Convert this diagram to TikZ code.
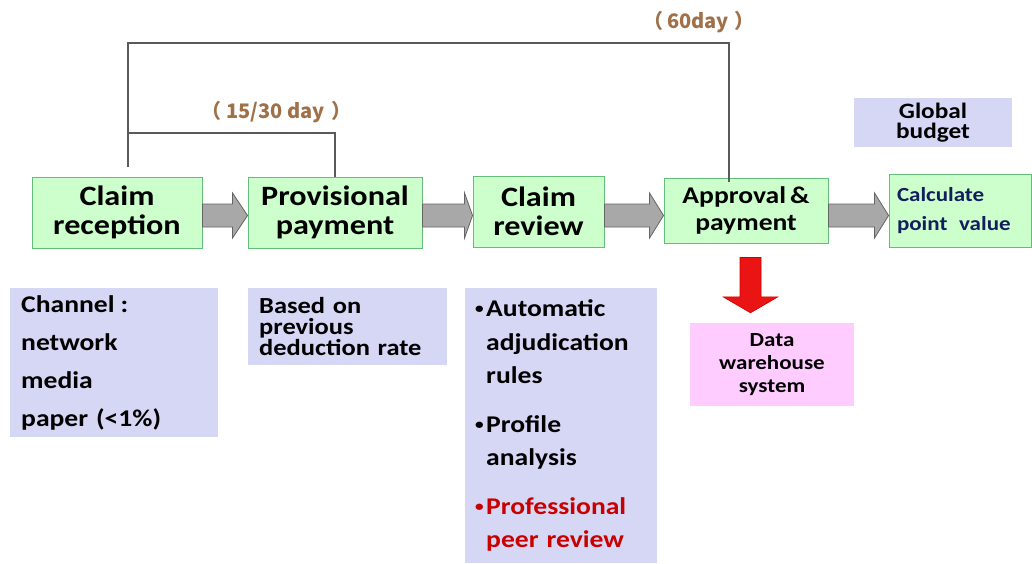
\documentclass[tikz,border=0pt]{standalone}
\usepackage{fontspec}
\setmainfont{Carlito}[FakeStretch=1.15]
\newfontfamily\cjk{Noto Sans CJK SC}
\usetikzlibrary{calc}
\definecolor{boxgreen}{RGB}{204,255,204}
\definecolor{edgegreen}{RGB}{100,190,120}
\definecolor{lav}{RGB}{214,214,245}
\definecolor{pinkbox}{RGB}{255,204,255}
\definecolor{arrowgray}{RGB}{168,168,168}
\definecolor{arrowedge}{RGB}{100,100,100}
\definecolor{labbrown}{RGB}{160,112,72}
\definecolor{navy}{RGB}{20,30,95}
\definecolor{darkred}{RGB}{200,0,0}
\definecolor{redarrow}{RGB}{235,20,20}
\definecolor{linegray}{RGB}{90,90,90}
\newcommand\blockarr[3]{%
  \path[grayarr] let \p1=(#1.east), \p2=(#2.west), \p3=(ay) in
    (\x1,\y3+11.5pt) -- (\x2-#3,\y3+11.5pt) -- (\x2-#3,\y3+22.5pt) -- (\x2,\y3)
    -- (\x2-#3,\y3-22.5pt) -- (\x2-#3,\y3-11.5pt) -- (\x1,\y3-11.5pt) -- cycle;}
\newcommand\bul{\makebox[11pt][l]{\raisebox{3pt}{\fontsize{15}{15}\selectfont •}}}
\newcommand\ind{\hspace*{11pt}}
\begin{document}
\begin{tikzpicture}[x=1pt,y=-1pt,
  stepbox/.style={draw=edgegreen, line width=0.9pt, fill=boxgreen, inner sep=0pt, align=center, font=\bfseries},
  notebox/.style={fill=lav, inner ysep=0pt, align=left, font=\bfseries},
  grayarr/.style={fill=arrowgray, draw=arrowedge, line width=0.8pt},
  conn/.style={draw=linegray, line width=1.1pt},
  lab/.style={text=labbrown, font=\fontsize{20}{22}\selectfont\bfseries, inner sep=0pt}]
\useasboundingbox (0,0) rectangle (1032,563);
\fill[white] (0,0) rectangle (1032,563);
\coordinate (ay) at (0,215.5);
% step boxes
\node[stepbox, minimum width=170pt, minimum height=71pt, font=\fontsize{28}{29}\selectfont\bfseries] (cr) at (117,212.5) {Claim\\reception};
\node[stepbox, minimum width=174pt, minimum height=71pt, font=\fontsize{28}{29}\selectfont\bfseries] (pp) at (335,212.5) {Provisional\\payment};
\node[stepbox, minimum width=131pt, minimum height=71pt, font=\fontsize{28}{29}\selectfont\bfseries] (cv) at (538.5,211.5) {Claim\\review};
\node[stepbox, minimum width=164pt, minimum height=65pt, font=\fontsize{24}{27}\selectfont\bfseries] (ap) at (746,210.5) {Approval\,\&\\payment};
\node[stepbox, minimum width=142pt, minimum height=73pt, text width=126pt, inner xsep=8pt, align=left, text=navy, font=\fontsize{20}{29}\selectfont\bfseries] (cp) at (960,210.5) {Calculate\\point\hspace{5pt} value};
% block arrows
\blockarr{cr}{pp}{15pt}
\blockarr{pp}{cv}{8pt}
\blockarr{cv}{ap}{14pt}
\blockarr{ap}{cp}{14pt}
% timing lines
\coordinate (lstart) at (128,167);
\coordinate (top) at (0,43);
\coordinate (mid) at (0,133);
\coordinate (lend60) at (729,182);
\draw[conn] (lstart) -- (lstart |- top) -| (lend60);
\draw[conn] (lstart |- mid) -| (pp.north);
\node[lab, anchor=west] (l15) at (201,112) {\cjk{（}\hspace{5pt}15/30 day\hspace{7pt}\cjk{）}};
\node[lab, anchor=west] (l60) at (643,22) {\cjk{（}\hspace{4pt}60day\hspace{6pt}\cjk{）}};
% global budget
\node[fill=lav, minimum width=158pt, minimum height=49pt, inner sep=0pt, align=center, font=\fontsize{22}{20}\selectfont\bfseries] (gb) at (933,122.5) {Global\\budget};
% notes
\node[notebox, anchor=north west, text width=186pt, inner xsep=11pt, minimum height=149pt, font=\fontsize{24}{38}\selectfont\bfseries] (ch) at (10,288) {Channel\hspace{-2pt} :\\network\\media\\paper (<1\%)};
\node[notebox, anchor=north west, text width=177pt, inner xsep=11pt, minimum height=77pt, font=\fontsize{23}{21}\selectfont\bfseries] (bo) at (248,288) {Based on\\previous\\deduction rate};
\node[notebox, anchor=north west, text width=172pt, inner xsep=10pt, minimum height=275pt, font=\fontsize{24}{33.5}\selectfont\bfseries] (rv) at (465,288) {\bul Automatic\\\ind adjudication\\\ind rules\\[15pt]\bul Profile\\\ind analysis\\[15pt]{\color{darkred}\bul Professional}\\\ind{\color{darkred}peer review}};
% data warehouse
\node[fill=pinkbox, minimum width=164pt, minimum height=83pt, inner sep=0pt, align=center, font=\fontsize{20}{23}\selectfont\bfseries] (dw) at (772,364.5) {Data\\warehouse\\system};
% red arrow
\path[fill=redarrow, draw=red!80!black, line width=0.6pt] let \p1=(ap.south), \p2=(dw.north) in
  (\x1-6pt,\y1-14pt) -- (\x1+15pt,\y1-14pt) -- (\x1+15pt,\y2+26pt) -- (\x1+32pt,\y2+26pt)
  -- (\x1+4.5pt,\y2+10pt) -- (\x1-23pt,\y2+26pt) -- (\x1-6pt,\y2+26pt) -- cycle;
\end{tikzpicture}
\end{document}
